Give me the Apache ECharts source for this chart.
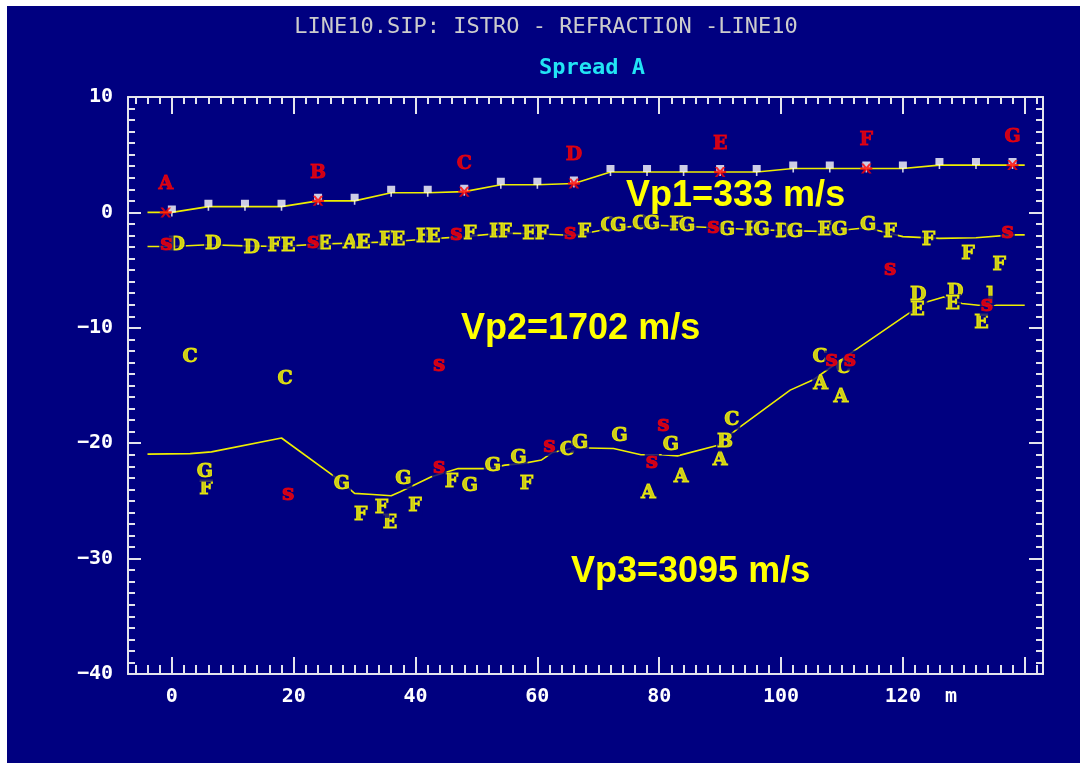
<!DOCTYPE html>
<html>
<head>
<meta charset="utf-8">
<title>LINE10 refraction - Spread A</title>
<script src="https://cdn.jsdelivr.net/npm/echarts@6.0.0/dist/echarts.min.js"></script>
<style>
    html, body { margin: 0; padding: 0; background: #ffffff; }
    #chart { width: 1080px; height: 763px; }
</style>
</head>
<body>
<div id="chart"></div>
<script>
// surface (topography) line
const surfaceX = [-4, 0, 6, 12, 18, 24, 30, 36, 42, 48, 54, 60, 66, 72, 78, 84, 90, 96, 102, 108, 114, 120, 126, 132, 138, 140];
const surfaceElev = [0, 0, 0.5, 0.5, 0.5, 1.0, 1.0, 1.7, 1.7, 1.8, 2.4, 2.4, 2.5, 3.5, 3.5, 3.5, 3.5, 3.5, 3.8, 3.8, 3.8, 3.8, 4.1, 4.1, 4.1, 4.1];

// geophones
const geophoneX = [0, 6, 12, 18, 24, 30, 36, 42, 48, 54, 60, 66, 72, 78, 84, 90, 96, 102, 108, 114, 120, 126, 132, 138];
const geophoneElev = [0, 0.5, 0.5, 0.5, 1.0, 1.0, 1.7, 1.7, 1.8, 2.4, 2.4, 2.5, 3.5, 3.5, 3.5, 3.5, 3.5, 3.8, 3.8, 3.8, 3.8, 4.1, 4.1, 4.1];

// shots
const shotX = [-1, 24, 48, 66, 90, 114, 138];
const shotElev = [0, 1.0, 1.8, 2.5, 3.5, 3.8, 4.1];
const shotNames = ['A', 'B', 'C', 'D', 'E', 'F', 'G'];

// interface Vp1 / Vp2
const layer1X = [-4, 0, 6, 12, 18, 24, 30, 36, 42, 48, 54, 60, 66, 72, 78, 84, 90, 96, 102, 108, 114, 120, 126, 132, 138, 140];
const layer1Depth = [-2.95, -2.95, -2.8, -2.9, -2.95, -2.75, -2.65, -2.55, -2.3, -2.1, -1.8, -1.85, -2.0, -1.4, -1.1, -1.2, -1.35, -1.5, -1.6, -1.65, -1.33, -2.1, -2.25, -2.2, -1.95, -1.95];

// interface Vp2 / Vp3
const layer2X = [-4, 3, 6.5, 18, 27.5, 30, 33, 36, 37.5, 39.1, 42.6, 47, 52, 54.7, 57.7, 60.7, 62.5, 66, 72.5, 77, 80.5, 83, 89.5, 93, 101.5, 105.3, 112.1, 120.9, 123.9, 126.7, 129.7, 132.4, 140];
const layer2Depth = [-20.95, -20.9, -20.75, -19.55, -23.2, -24.35, -24.45, -24.55, -24.2, -23.8, -22.9, -22.2, -22.2, -21.9, -21.75, -21.45, -20.8, -20.4, -20.46, -21.0, -21.0, -21.1, -20.2, -18.7, -15.4, -14.5, -11.95, -8.77, -7.77, -7.33, -7.9, -8.05, -8.05];

// shot letters of the depth points, refractor 1
const pts1X = [0.8, 6.8, 13.1, 16.8, 19.1, 25.0, 29.3, 31.4, 35.1, 37.1, 41.2, 42.9, 48.9, 53.2, 54.7, 58.7, 60.7, 67.7, 71.6, 73.3, 76.8, 78.8, 82.8, 84.6, 91.1, 95.1, 96.8, 100.4, 102.3, 107.2, 109.6, 114.3, 117.9, 124.2, 130.7, 135.8];
const pts1Y = [-2.86, -2.77, -3.06, -2.94, -2.94, -2.77, -2.65, -2.65, -2.42, -2.42, -2.14, -2.14, -1.9, -1.7, -1.7, -1.85, -1.85, -1.7, -1.21, -1.21, -1.04, -1.04, -1.13, -1.21, -1.5, -1.5, -1.5, -1.7, -1.7, -1.56, -1.56, -1.13, -1.7, -2.36, -3.58, -4.59];
const pts1Tag = ['D', 'D', 'D', 'F', 'E', 'E', 'A', 'E', 'F', 'E', 'F', 'E', 'F', 'F', 'F', 'E', 'F', 'F', 'C', 'G', 'C', 'G', 'F', 'G', 'G', 'F', 'G', 'D', 'G', 'E', 'G', 'G', 'F', 'F', 'F', 'F'];

// shot letters of the depth points, refractor 2
const pts2X = [3.0, 5.6, 5.4, 18.6, 27.9, 31.0, 35.8, 34.4, 38.0, 39.9, 45.9, 48.9, 52.7, 56.9, 58.2, 64.9, 67.0, 73.5, 78.2, 81.9, 83.6, 90.0, 90.8, 91.9, 106.4, 106.5, 109.8, 110.2, 122.5, 122.4, 128.6, 128.2, 134.3, 132.9];
const pts2Y = [-12.5, -24.0, -22.5, -14.4, -23.5, -26.2, -26.9, -25.65, -23.15, -25.45, -23.35, -23.7, -22.0, -21.3, -23.5, -20.6, -20.0, -19.4, -24.35, -20.2, -22.9, -21.5, -19.9, -18.0, -12.55, -14.9, -16.0, -13.5, -7.2, -8.5, -6.9, -7.9, -7.2, -9.6];
const pts2Tag = ['C', 'F', 'G', 'C', 'G', 'F', 'E', 'F', 'G', 'F', 'F', 'G', 'G', 'G', 'F', 'C', 'G', 'G', 'A', 'G', 'A', 'A', 'B', 'C', 'C', 'A', 'A', 'C', 'D', 'E', 'D', 'E', ']', 'E'];

// red "s" marks
const sX = [-0.9, 23.2, 46.7, 65.4, 88.9, 117.9, 137.2, 19.1, 43.9, 43.9, 62.0, 78.8, 80.7, 108.3, 111.3, 133.8];
const sY = [-3.0, -2.86, -2.14, -2.08, -1.56, -5.17, -1.99, -24.65, -13.5, -22.35, -20.5, -21.9, -18.7, -13.1, -13.1, -8.35];

// axis ticks / labels
const xMajor = [0, 20, 40, 60, 80, 100, 120, 140];
const xMinor = [-6, -4, -2, 2, 4, 6, 8, 10, 12, 14, 16, 18, 22, 24, 26, 28, 30, 32, 34, 36, 38, 42, 44, 46, 48, 50, 52, 54, 56, 58, 62, 64, 66, 68, 70, 72, 74, 76, 78, 82, 84, 86, 88, 90, 92, 94, 96, 98, 102, 104, 106, 108, 110, 112, 114, 116, 118, 122, 124, 126, 128, 130, 132, 134, 136, 138, 142];
const xLabels = [0, 20, 40, 60, 80, 100, 120];

const NAVY = '#000080';
const YELLOW = '#ffff00';
const RED = '#ff0000';
const AXIS = '#e4e4ec';

function pairs(xs, ys) {
    return xs.map((x, i) => [x, ys[i]]);
}
function tagged(xs, ys, tags) {
    return xs.map((x, i) => ({ name: tags[i], value: [x, ys[i]] }));
}

// bold serif letters, thickened a little with an outline of the same colour
function letterLabel(color, extra) {
    return Object.assign({
        show: true,
        position: 'inside',
        formatter: '{b}',
        color: color,
        textBorderColor: color,
        textBorderWidth: 0.9,
        fontFamily: 'DejaVu Serif',
        fontWeight: 'bold',
        fontSize: 19,
        lineHeight: 19
    }, extra || {});
}

function xAxisDef(pos, ticks, len, withLine, labels) {
    return {
        type: 'value',
        position: pos,
        min: -7.2,
        max: 143,
        splitLine: { show: false },
        axisLine: { show: withLine, onZero: false, lineStyle: { color: AXIS, width: 2 } },
        axisTick: { show: true, inside: true, length: len, customValues: ticks, lineStyle: { color: AXIS, width: 2 } },
        axisLabel: labels ? {
            show: true,
            customValues: labels,
            margin: 13,
            color: '#ffffff',
            fontFamily: 'DejaVu Sans Mono',
            fontWeight: 'bold',
            fontSize: 20
        } : { show: false }
    };
}

function yAxisDef(pos, majorLen, labels) {
    return {
        type: 'value',
        position: pos,
        min: -40,
        max: 10,
        interval: 10,
        splitLine: { show: false },
        axisLine: { show: true, onZero: false, lineStyle: { color: AXIS, width: 2 } },
        axisTick: { show: true, inside: true, length: majorLen, lineStyle: { color: AXIS, width: 2 } },
        minorTick: { show: true, splitNumber: 10, length: 7, lineStyle: { color: AXIS, width: 2 } },
        axisLabel: labels ? {
            show: true,
            margin: 15,
            color: '#ffffff',
            fontFamily: 'DejaVu Sans Mono',
            fontWeight: 'bold',
            fontSize: 20,
            formatter: v => String(v).replace('-', '\u2212')
        } : { show: false }
    };
}

const chart = echarts.init(document.getElementById('chart'));

const option = {
    animation: false,
    backgroundColor: NAVY,
    grid: { left: 128, right: 37, top: 97, bottom: 89 },
    xAxis: [
        xAxisDef('bottom', xMajor, 17, true, xLabels),
        xAxisDef('bottom', xMinor, 9, false, null),
        xAxisDef('top', xMajor, 17, true, null),
        xAxisDef('top', xMinor, 7, false, null)
    ],
    yAxis: [
        yAxisDef('left', 13, true),
        yAxisDef('right', 14, false)
    ],
    graphic: [
        { type: 'rect', z: 100, shape: { x: 0, y: 0, width: 7, height: 763 }, style: { fill: '#ffffff' } },
        { type: 'rect', z: 100, shape: { x: 0, y: 0, width: 1080, height: 6 }, style: { fill: '#ffffff' } },
        {
            type: 'text', x: 546, y: 27,
            style: { text: 'LINE10.SIP: ISTRO - REFRACTION -LINE10', font: '22px "DejaVu Sans Mono"', fill: '#cccccc', align: 'center', verticalAlign: 'middle' }
        },
        {
            type: 'text', x: 592, y: 68,
            style: { text: 'Spread A', font: 'bold 22px "DejaVu Sans Mono"', fill: '#22e4f4', align: 'center', verticalAlign: 'middle' }
        },
        {
            type: 'text', x: 951, y: 697,
            style: { text: 'm', font: 'bold 20px "DejaVu Sans Mono"', fill: '#ffffff', align: 'center', verticalAlign: 'middle' }
        },
        {
            type: 'text', x: 626, y: 196,
            style: { text: 'Vp1=333 m/s', font: 'bold 36px "Liberation Sans"', fill: YELLOW, align: 'left', verticalAlign: 'middle' }
        },
        {
            type: 'text', x: 461, y: 329,
            style: { text: 'Vp2=1702 m/s', font: 'bold 36px "Liberation Sans"', fill: YELLOW, align: 'left', verticalAlign: 'middle' }
        },
        {
            type: 'text', x: 571, y: 572,
            style: { text: 'Vp3=3095 m/s', font: 'bold 36px "Liberation Sans"', fill: YELLOW, align: 'left', verticalAlign: 'middle' }
        }
    ],
    series: [
        {
            name: 'surface',
            type: 'line',
            z: 2,
            silent: true,
            showSymbol: false,
            data: pairs(surfaceX, surfaceElev),
            lineStyle: { color: '#eeee00', width: 1.6 }
        },
        {
            name: 'refractor1',
            type: 'line',
            z: 2,
            silent: true,
            showSymbol: false,
            data: pairs(layer1X, layer1Depth),
            lineStyle: { color: '#eeee00', width: 1.6 }
        },
        {
            name: 'refractor2',
            type: 'line',
            z: 2,
            silent: true,
            showSymbol: false,
            data: pairs(layer2X, layer2Depth),
            lineStyle: { color: '#eeee00', width: 1.6 }
        },
        {
            name: 'geophones',
            type: 'scatter',
            z: 3,
            silent: true,
            symbol: 'path://M0,0H8V7H4.8V11H3.2V7H0Z',
            symbolSize: [8, 11],
            symbolOffset: [0, -1.5],
            itemStyle: { color: '#ffffff' },
            data: pairs(geophoneX, geophoneElev)
        },
        {
            name: 'shots',
            type: 'scatter',
            z: 4,
            silent: true,
            symbol: 'path://M0,3.8H11V6.2H0Z M0.6,0L3,0L10.4,10L8,10Z M8,0L10.4,0L3,10L0.6,10Z',
            symbolSize: [12, 10],
            itemStyle: { color: RED },
            label: letterLabel(RED, { offset: [0, -28] }),
            data: tagged(shotX, shotElev, shotNames)
        },
        {
            name: 'points1',
            type: 'scatter',
            z: 5,
            silent: true,
            symbolSize: 1,
            itemStyle: { color: 'transparent' },
            label: letterLabel(YELLOW, { backgroundColor: NAVY, padding: [0, 1] }),
            data: tagged(pts1X, pts1Y, pts1Tag)
        },
        {
            name: 'points2',
            type: 'scatter',
            z: 5,
            silent: true,
            symbolSize: 1,
            itemStyle: { color: 'transparent' },
            label: letterLabel(YELLOW, { backgroundColor: NAVY, padding: [0, 1] }),
            data: tagged(pts2X, pts2Y, pts2Tag)
        },
        {
            name: 'sMarks',
            type: 'scatter',
            z: 6,
            silent: true,
            symbolSize: 1,
            itemStyle: { color: 'transparent' },
            label: letterLabel(RED, {
                formatter: 's',
                fontSize: 22,
                lineHeight: 20,
                offset: [0, -3],
                backgroundColor: NAVY,
                padding: [0, 1]
            }),
            data: pairs(sX, sY)
        }
    ]
};

chart.setOption(option);
</script>
</body>
</html>
